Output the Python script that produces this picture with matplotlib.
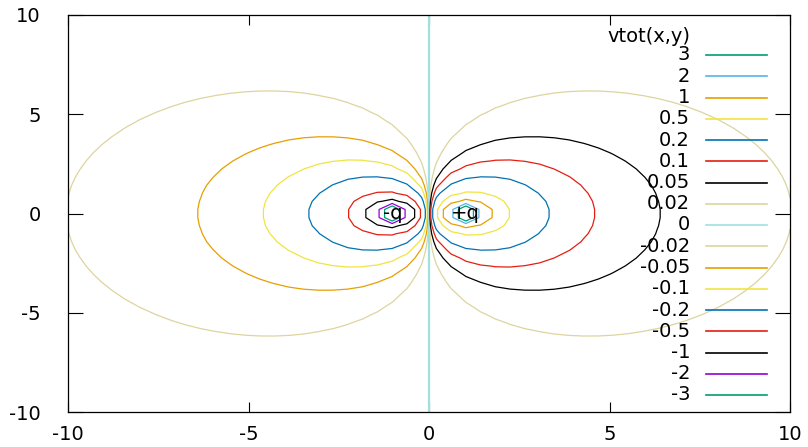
import numpy as np
import matplotlib
matplotlib.use("Agg")
import matplotlib.pyplot as plt
from matplotlib.lines import Line2D

# ---- data ----
charge_x = [-1.0, 1.0]
charge_y = [0.0, 0.0]
charge_q = [-1.0, 1.0]
charge_labels = ["-q", "+q"]
levels = [3, 2, 1, 0.5, 0.2, 0.1, 0.05, 0.02, 0, -0.02, -0.05, -0.1, -0.2, -0.5, -1, -2, -3]
level_labels = ["3", "2", "1", "0.5", "0.2", "0.1", "0.05", "0.02", "0",
                "-0.02", "-0.05", "-0.1", "-0.2", "-0.5", "-1", "-2", "-3"]
level_colors = ["#009e73", "#56b4e9", "#e69f00", "#f0e442", "#0072b2", "#e51e10", "#000000",
                "#ddd49f", "#a0e0e0", "#ddd49f", "#e69f00", "#f0e442", "#0072b2", "#e51e10",
                "#000000", "#9400d3", "#009e73"]
xticks = [-10, -5, 0, 5, 10]
yticks = [-10, -5, 0, 5, 10]
n_samples = 50

plt.rcParams['font.family'] = ['DejaVu Sans']
FS = 14

fig = plt.figure(figsize=(8.08, 4.47), dpi=100)
ax = fig.add_axes([68/808, 1-412/447, (790-68)/808, (412-15)/447])

xs = np.linspace(-10, 10, n_samples)
ys = np.linspace(-10, 10, n_samples)
X, Y = np.meshgrid(xs, ys)
V = np.zeros_like(X)
for cx, cy, q in zip(charge_x, charge_y, charge_q):
    V += q / np.sqrt((X - cx)**2 + (Y - cy)**2)

order = np.argsort(levels)
lv_sorted = [levels[i] for i in order]
col_sorted = [level_colors[i] for i in order]
lw_sorted = [1.6 if levels[i] == 0 else 0.9 for i in order]
ax.contour(X, Y, V, levels=lv_sorted, colors=col_sorted, linewidths=lw_sorted)

for cx, cy, lab in zip(charge_x, charge_y, charge_labels):
    ax.text(cx, cy, lab, ha='center', va='center', fontsize=FS)

ax.set_xlim(-10, 10)
ax.set_ylim(-10, 10)
ax.set_xticks(xticks)
ax.set_yticks(yticks)
ax.set_xticklabels([str(t) for t in xticks])
ax.set_yticklabels([str(t) for t in yticks])
ax.tick_params(axis='x', direction='in', top=True, bottom=True, length=7, width=0.8,
               labelsize=FS, pad=9, colors='black')
ax.tick_params(axis='y', direction='in', left=True, right=True, length=11, width=0.8,
               labelsize=FS, pad=19.5)
for s in ax.spines.values():
    s.set_linewidth(0.9)

# gnuplot-style key
def yfrac(py):
    return (412 - py) / (412 - 15)
def xfrac(px):
    return (px - 68) / (790 - 68)

ax.text(xfrac(690), yfrac(36), "vtot(x,y)", transform=ax.transAxes, ha='right', va='center', fontsize=FS)
for i, (lab, col, lv) in enumerate(zip(level_labels, level_colors, levels)):
    py = 55 + i * 21.25
    ax.text(xfrac(690), yfrac(py), lab, transform=ax.transAxes, ha='right', va='center', fontsize=FS)
    ax.add_line(Line2D([xfrac(706), xfrac(767)], [yfrac(py), yfrac(py)], transform=ax.transAxes,
                       color=col, lw=1.2, clip_on=False))

fig.savefig("out.png", dpi=100)
